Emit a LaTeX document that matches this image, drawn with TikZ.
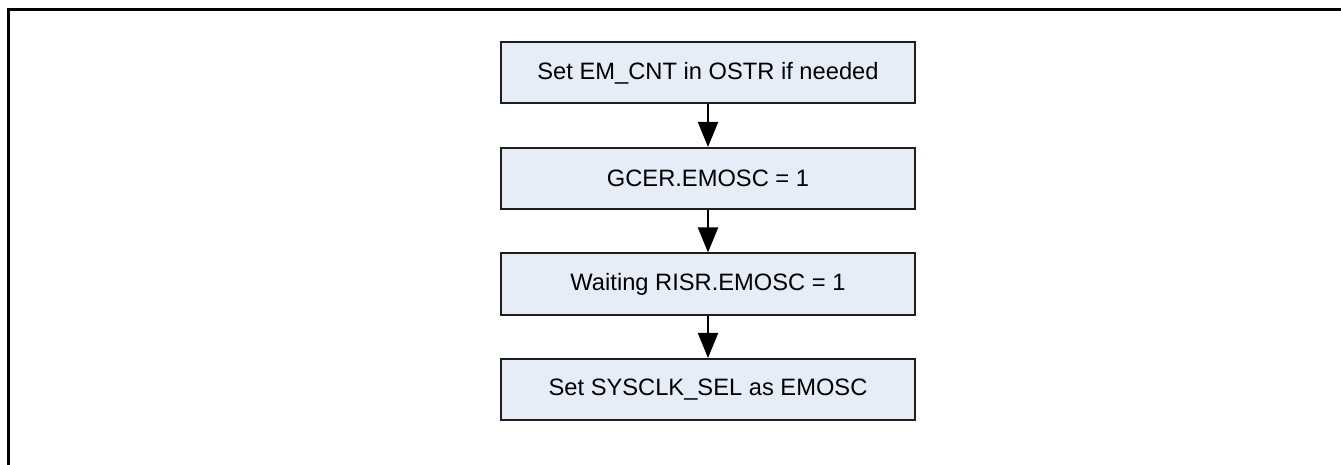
\documentclass[tikz,border=0pt]{standalone}
\usepackage{fontspec}
\setmainfont{Liberation Sans}
\usepackage{tikz}
\usetikzlibrary{arrows.meta}
\definecolor{boxfill}{HTML}{E6EDF7}
\definecolor{boxline}{HTML}{1E1E1E}
\tikzset{
% Flow chart: one step box and the arrow between steps
stepbox/.style={rectangle,draw=boxline,fill=boxfill,line width=2bp,minimum width=414bp,minimum height=61bp,inner sep=0},
flow arrow/.style={line width=2bp,-{Triangle[length=25bp,width=20bp]}}
}

\begin{document}
\begin{tikzpicture}[x=1bp,y=-1bp,font=\fontsize{23.7bp}{28bp}\selectfont]
\useasboundingbox (0,0) rectangle (1341,465);
\clip (0,0) rectangle (1341,465);
\draw[line width=2.7bp] (8.7,9.7) rectangle (1380,500);

\node[stepbox] (emcnt) at (708,73) {Set EM\_CNT in OSTR if needed};
\node[stepbox] (gcer) at (708,178.5) {GCER.EMOSC = 1};
\node[stepbox] (risr) at (708,284) {Waiting RISR.EMOSC = 1};
\node[stepbox] (sysclk) at (708,389.5) {Set SYSCLK\_SEL as EMOSC};

\path [flow arrow] (emcnt) edge (gcer);
\path [flow arrow] (gcer) edge (risr);
\path [flow arrow] (risr) edge (sysclk);
\end{tikzpicture}
\end{document}
